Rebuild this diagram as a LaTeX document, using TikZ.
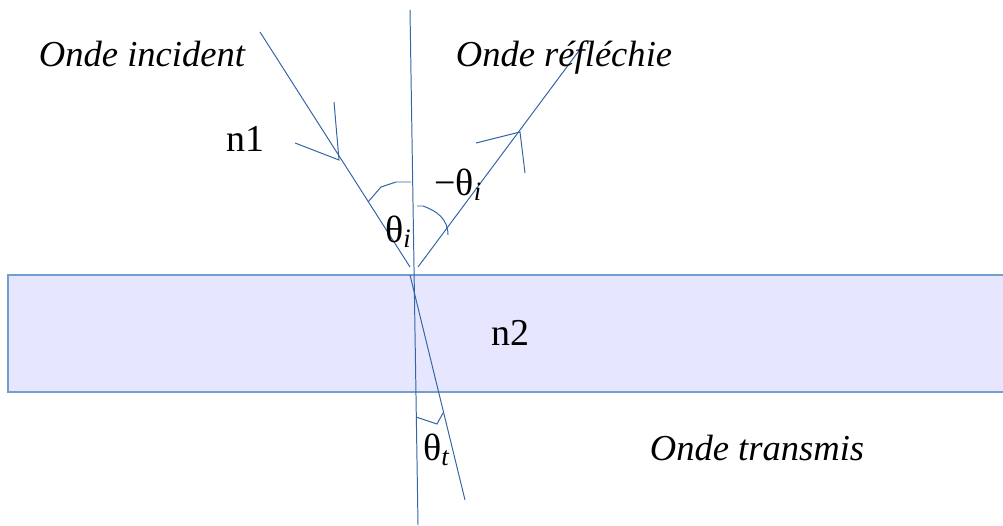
\documentclass[tikz,border=0pt]{standalone}
\usepackage{fontspec}
\setmainfont{Liberation Serif}
\usetikzlibrary{positioning,calc}
\definecolor{raycol}{RGB}{52,101,164}
\definecolor{slabfill}{RGB}{230,230,255}
\definecolor{slabline}{RGB}{114,159,207}
\tikzset{
  ray/.style   = {draw=raycol, line width=0.7pt},
  chev/.style  = {draw=raycol, line width=0.7pt},
  slab/.style  = {draw=slabline, line width=1.4pt, fill=slabfill},
  wave/.style  = {inner sep=0pt, font=\fontsize{26}{30}\selectfont\itshape},
  index/.style = {inner sep=0pt, font=\fontsize{27}{30}\selectfont},
  angl/.style  = {inner sep=0pt, font=\fontsize{27}{30}\selectfont},
}
\newcommand{\thsub}[1]{θ\textsubscript{\itshape #1}}

\begin{document}
\begin{tikzpicture}[x=0.025cm, y=-0.025cm]
\useasboundingbox (0,0) rectangle (1003,525);
% ---- second medium ----
\filldraw[slab] (8,275) rectangle (1012,392);
% ---- points ----
\coordinate (nt) at (410,10);
\coordinate (nb) at (418,525);
\coordinate (src) at (260,32);
\coordinate (hi) at (410,267);
\coordinate (hr) at (418,267);
\coordinate (dst) at (581,48);
\coordinate (ht) at (410,275);
\coordinate (tend) at (465,500);
% ---- normal and rays ----
\draw[ray] (nt) -- (nb);
\draw[ray] (src) -- (hi);
\draw[ray] (hr) -- (dst);
\draw[ray] (ht) -- (tend);
% direction marks
\draw[chev] (295,143) -- (339,160) -- (334,102);
\draw[chev] (476,143) -- (520,132) -- (525,173);
% angle arcs
\draw[chev] (368,202) -- (381,187) -- (396,182) -- (411,182);
\draw[chev] (417,206) -- (423,206) .. controls (437,211) and (448,219) .. (448,235);
\draw[chev] (416,417) -- (437,424) -- (443,413);
% ---- labels ----
\node[wave, anchor=base] (winc) at (142,67) {Onde incident};
\node[wave, anchor=base] (wref) at (564,67) {Onde réfléchie};
\node[wave, anchor=base] (wtra) at (757,460) {Onde transmis};
\node[index, anchor=base] (na) at (245,152) {n1};
\node[index, anchor=base] (nbb) at (510,345) {n2};
\node[angl, anchor=base west] (thi) at (385,242) {\thsub{i}};
\node[angl, anchor=base west] (thr) at (434,195) {−\thsub{i}};
\node[angl, anchor=base west] (tht) at (423,460) {\thsub{t}};
\end{tikzpicture}
\end{document}
